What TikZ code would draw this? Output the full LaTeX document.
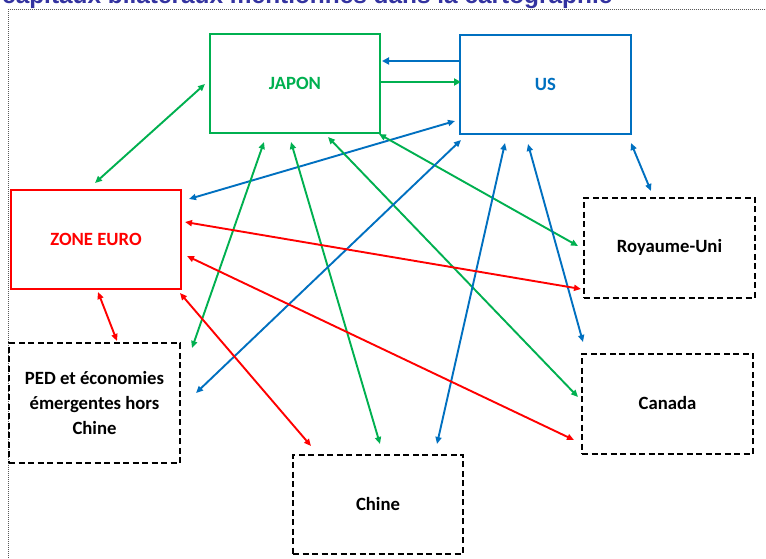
\documentclass[tikz,border=0pt]{standalone}
\usepackage{fontspec}
\newfontfamily\calfont{Carlito}
\newfontfamily\titlefont{Liberation Sans}
\usetikzlibrary{arrows.meta}
\definecolor{cgreen}{RGB}{0,176,80}
\definecolor{cblue}{RGB}{0,112,192}
\definecolor{cred}{RGB}{255,0,0}
\definecolor{ctitle}{RGB}{51,51,160}
\tikzset{
  box/.style={draw, line width=2pt, minimum width=170pt, minimum height=99pt, inner sep=0pt, align=center,
    font=\calfont\bfseries\fontsize{18.7}{25}\selectfont},
  dbox/.style={box, draw=black, dash pattern=on 6pt off 3.5pt, line width=2pt},
  link/.style={line width=1.9pt, {Triangle[length=7pt,width=6pt]}-{Triangle[length=7pt,width=6pt]}},
  onelink/.style={line width=1.9pt, -{Triangle[length=7pt,width=7pt]}},
}
\begin{document}
\begin{tikzpicture}[x=1pt,y=-1pt]
\useasboundingbox (0,0) rectangle (766,559);
\clip (0,0) rectangle (766,559);
\fill[white] (0,0) rectangle (766,559);
% title (cut off at the top edge, as in the reference)
\node[anchor=base west, inner sep=0pt, text=ctitle, font=\titlefont\bfseries\fontsize{24.4}{28}\selectfont] (title) at (2,3.5) {capitaux bilatéraux mentionnés dans la cartographie};
% dotted frame
\draw[gray!70!black, line width=0.9pt, dash pattern=on 1pt off 1pt] (8,570) -- (8,9.5) -- (780,9.5);
% boxes
\node[box, draw=cgreen, text=cgreen] (japon) at (295,83.5) {JAPON};
\node[box, draw=cblue, text=cblue, minimum width=171pt] (us) at (545.5,84.5) {US};
\node[box, draw=cred, text=cred] (ze) at (96,239.5) {ZONE EURO};
\node[dbox, minimum width=171pt, minimum height=120pt] (ped) at (94.5,403) {PED et économies\\émergentes hors\\Chine};
\node[dbox] (chine) at (378,504) {Chine};
\node[dbox, minimum width=171pt, minimum height=100pt] (ru) at (669.5,247.5) {Royaume-Uni};
\node[dbox, minimum width=171pt, minimum height=100pt] (ca) at (667.5,403.5) {Canada};
% endpoints
\coordinate (a1) at (205,84);  \coordinate (a2) at (95,183);
\coordinate (b1) at (460,61);  \coordinate (b2) at (382,61);
\coordinate (c1) at (381,82);  \coordinate (c2) at (461,82);
\coordinate (d1) at (189,199); \coordinate (d2) at (455,121);
\coordinate (e1) at (264,142); \coordinate (e2) at (192,348);
\coordinate (f1) at (291,142); \coordinate (f2) at (380,444);
\coordinate (g1) at (328,137); \coordinate (g2) at (578,397);
\coordinate (h1) at (379,134); \coordinate (h2) at (578,246);
\coordinate (i1) at (461,140); \coordinate (i2) at (196,393);
\coordinate (k1) at (505,143); \coordinate (k2) at (437,444);
\coordinate (l1) at (528,144); \coordinate (l2) at (583,342);
\coordinate (m1) at (631,143); \coordinate (m2) at (651,191);
\coordinate (n1) at (185,222); \coordinate (n2) at (581,289);
\coordinate (o1) at (187,256); \coordinate (o2) at (574,440);
\coordinate (p1) at (180,293); \coordinate (p2) at (311,446);
\coordinate (q1) at (98,292);  \coordinate (q2) at (117,341);
% connectors
\draw[link, cgreen] (a1) -- (a2);
\draw[onelink, cblue] (b1) -- (b2);
\draw[onelink, cgreen] (c1) -- (c2);
\draw[link, cblue] (d1) -- (d2);
\draw[link, cgreen] (e1) -- (e2);
\draw[link, cgreen] (f1) -- (f2);
\draw[link, cgreen] (g1) -- (g2);
\draw[link, cgreen] (h1) -- (h2);
\draw[link, cblue] (i1) -- (i2);
\draw[link, cblue] (k1) -- (k2);
\draw[link, cblue] (l1) -- (l2);
\draw[link, cblue] (m1) -- (m2);
\draw[link, cred] (n1) -- (n2);
\draw[link, cred] (o1) -- (o2);
\draw[link, cred] (p1) -- (p2);
\draw[link, cred] (q1) -- (q2);
\end{tikzpicture}
\end{document}
